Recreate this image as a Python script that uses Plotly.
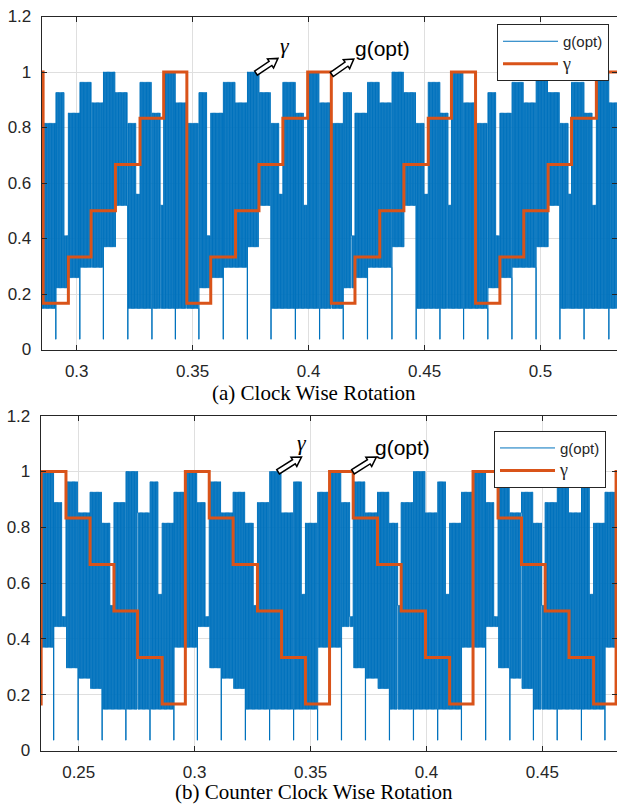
import math
import plotly.graph_objects as go

# ---------------- data ----------------
# Panel (a) Clock Wise Rotation
A_XRANGE = [0.2849, 0.5330]
a_gamma_pre = 1.0
a_gamma_x = [0.2855, 0.2964, 0.3062, 0.3167, 0.3273, 0.3375,
             0.3475, 0.3578, 0.3685, 0.3786, 0.3889, 0.3996,
             0.4098, 0.4200, 0.4307, 0.4411, 0.4516, 0.4616,
             0.4720, 0.4825, 0.4928, 0.5033, 0.5134, 0.5241]
a_gamma = [0.1667, 0.3333, 0.5, 0.6667, 0.8333, 1.0,
           0.1667, 0.3333, 0.5, 0.6667, 0.8333, 1.0,
           0.1667, 0.3333, 0.5, 0.6667, 0.8333, 1.0,
           0.1667, 0.3333, 0.5, 0.6667, 0.8333, 1.0]
# g(opt): upper level of each half-step burst and lower level it switches to
a_top = [0.815, 0.926, 0.852, 0.963, 0.889, 1.0, 0.926, 0.815, 0.963, 0.852, 1.0, 0.889,
         0.815, 0.926, 0.852, 0.963, 0.889, 1.0, 0.926, 0.815, 0.963, 0.852, 1.0, 0.889,
         0.815, 0.926, 0.852, 0.963, 0.889, 1.0, 0.926, 0.815, 0.963, 0.852, 1.0, 0.889,
         0.815, 0.926, 0.852, 0.963, 0.889, 1.0, 0.926, 0.815, 0.963, 0.852, 1.0, 0.889]
a_low = [0.148, 0.222, 0.259, 0.296, 0.296, 0.370, 0.519, 0.148, 0.148, 0.148, 0.148, 0.148,
         0.148, 0.222, 0.259, 0.296, 0.296, 0.370, 0.519, 0.148, 0.148, 0.148, 0.148, 0.148,
         0.148, 0.222, 0.259, 0.296, 0.296, 0.370, 0.519, 0.148, 0.148, 0.148, 0.148, 0.148,
         0.148, 0.222, 0.259, 0.296, 0.296, 0.370, 0.519, 0.148, 0.148, 0.148, 0.148, 0.148]
# level reached in the short pause at the end of a burst (None = no pause)
a_pause = [None, 0.41, None, None, None, None, None, 0.56, None, 0.52, None, None,
           None, 0.41, None, None, None, None, None, 0.56, None, 0.52, None, None,
           None, 0.41, None, None, None, None, None, 0.56, None, 0.52, None, None,
           None, 0.41, None, None, None, None, None, 0.56, None, 0.52, None, None]

# Panel (b) Counter Clock Wise Rotation
B_XRANGE = [0.2336, 0.4822]
b_gamma_pre = 0.1667
b_gamma_x = [0.2338, 0.2445, 0.2549, 0.2652, 0.2754, 0.2860,
             0.2960, 0.3063, 0.3166, 0.3271, 0.3375, 0.3478,
             0.3582, 0.3684, 0.3789, 0.3891, 0.3996, 0.4100,
             0.4201, 0.4309, 0.4410, 0.4512, 0.4615, 0.4721, 0.4818]
b_gamma = [1.0, 0.8333, 0.6667, 0.5, 0.3333, 0.1667,
           1.0, 0.8333, 0.6667, 0.5, 0.3333, 0.1667,
           1.0, 0.8333, 0.6667, 0.5, 0.3333, 0.1667,
           1.0, 0.8333, 0.6667, 0.5, 0.3333, 0.1667, 1.0]
b_top = [1.0, 0.889, 0.963, 0.852, 0.926, 0.815, 0.889, 1.0, 0.852, 0.963, 0.815, 0.926,
         1.0, 0.889, 0.963, 0.852, 0.926, 0.815, 0.889, 1.0, 0.852, 0.963, 0.815, 0.926,
         1.0, 0.889, 0.963, 0.852, 0.926, 0.815, 0.889, 1.0, 0.852, 0.963, 0.815, 0.926,
         1.0, 0.889, 0.963, 0.852, 0.926, 0.815, 0.889, 1.0, 0.852, 0.963, 0.815, 0.926]
b_low = [0.370, 0.444, 0.296, 0.259, 0.222, 0.148, 0.148, 0.148, 0.148, 0.148, 0.148, 0.370,
         0.370, 0.444, 0.296, 0.259, 0.222, 0.148, 0.148, 0.148, 0.148, 0.148, 0.148, 0.370,
         0.370, 0.444, 0.296, 0.259, 0.222, 0.148, 0.148, 0.148, 0.148, 0.148, 0.148, 0.370,
         0.370, 0.444, 0.296, 0.259, 0.222, 0.148, 0.148, 0.148, 0.148, 0.148, 0.148, 0.370]
b_pause = [None, 0.48, None, None, None, 0.52, None, None, None, 0.56, None, None,
           None, 0.48, None, None, None, 0.52, None, None, None, 0.56, None, None,
           None, 0.48, None, None, None, 0.52, None, None, None, 0.56, None, None,
           None, 0.48, None, None, None, 0.52, None, None, None, 0.56, None, None]

spike_level = 0.037  # narrow dips in the middle of every gamma step

x_ticks_a = [0.3, 0.35, 0.4, 0.45, 0.5]
x_ticks_b = [0.25, 0.3, 0.35, 0.4, 0.45]
x_tick_text_a = ["0.3", "0.35", "0.4", "0.45", "0.5"]
x_tick_text_b = ["0.25", "0.3", "0.35", "0.4", "0.45"]
y_ticks = [0, 0.2, 0.4, 0.6, 0.8, 1.0, 1.2]
y_tick_text = ["0", "0.2", "0.4", "0.6", "0.8", "1", "1.2"]

# ---------------- styling ----------------
W, H = 617, 805
BLUE = "#0072BD"
ORANGE = "#D95319"
AX = "#262626"
GRID = "#dfdfdf"
SANS = "Liberation Sans, Arial, sans-serif"
SERIF = "Liberation Serif, Times New Roman, serif"

# axis geometry (pixels)
A_DOM_X = [41.7 / W, 1.0]
B_DOM_X = [40.7 / W, 1.0]
A_DOM_Y = [1 - 349.5 / H, 1 - 16.5 / H]
B_DOM_Y = [1 - 750.5 / H, 1 - 415.7 / H]
PX_X_A = (W - 41.7) / (A_XRANGE[1] - A_XRANGE[0])
PX_X_B = (W - 40.7) / (B_XRANGE[1] - B_XRANGE[0])
PX_Y_A = (349.5 - 16.5) / 1.2
PX_Y_B = (750.5 - 415.7) / 1.2


def gopt_xy(xrange, steps, tops, lows, pauses, spike, dx):
    xs, ys = [], []
    nsteps = len(tops) // 2
    for i in range(nsteps):
        s = xrange[0] if i == 0 else steps[i]
        if i + 1 < len(steps):
            e = steps[i + 1]
            mid = (steps[i] + steps[i + 1]) / 2
        else:
            e = xrange[1]
            mid = steps[i] + (steps[i] - steps[i - 1]) / 2
        for j, (bs, be) in enumerate(((s, mid), (mid, e))):
            if be <= bs:
                continue
            b = 2 * i + j
            t, lo, pz = tops[b], lows[b], pauses[b]
            start = bs + (dx * 0.35 if j == 1 else 0)
            top_end = be if pz is None else be - 0.3 * (be - bs)
            n = max(2, int(round((top_end - start) / dx)))
            for k in range(n):
                xs.append(start + k * (top_end - start) / n)
                ys.append(t if k % 2 == 0 else lo)
            if pz is not None:
                m = max(2, int(round((be - top_end) / dx)))
                for k in range(m):
                    xs.append(top_end + k * (be - top_end) / m)
                    ys.append(pz if k % 2 == 0 else lo)
            if j == 0:
                xs.append(mid)
                ys.append(spike)
    xs.append(xrange[1])
    ys.append(ys[-1])
    return xs, ys


def gamma_xy(xrange, pre, steps, levels):
    xs = [xrange[0]] + list(steps) + [xrange[1]]
    ys = [pre] + list(levels) + [levels[-1]]
    return xs, ys


def hollow_arrow(tail, head, sx, sy, shaft=5.0, head_w=11.0, head_len=9.0):
    tx, ty = tail[0] * sx, tail[1] * sy
    hx, hy = head[0] * sx, head[1] * sy
    L = math.hypot(hx - tx, hy - ty)
    ux, uy = (hx - tx) / L, (hy - ty) / L
    nx, ny = -uy, ux
    kx, ky = hx - ux * head_len, hy - uy * head_len
    pts = [
        (tx + nx * shaft / 2, ty + ny * shaft / 2),
        (kx + nx * shaft / 2, ky + ny * shaft / 2),
        (kx + nx * head_w / 2, ky + ny * head_w / 2),
        (hx, hy),
        (kx - nx * head_w / 2, ky - ny * head_w / 2),
        (kx - nx * shaft / 2, ky - ny * shaft / 2),
        (tx - nx * shaft / 2, ty - ny * shaft / 2),
    ]
    return "M " + " L ".join(f"{x / sx:.6f},{y / sy:.6f}" for x, y in pts) + " Z"


GAMMA_NAME = "<span style='font-family:Liberation Serif;font-size:18px'>γ</span>"

fig = go.Figure()

ax_, ay_ = gopt_xy(A_XRANGE, a_gamma_x, a_top, a_low, a_pause, spike_level, 0.6 / PX_X_A)
gx_, gy_ = gamma_xy(A_XRANGE, a_gamma_pre, a_gamma_x, a_gamma)
fig.add_trace(go.Scatter(x=ax_, y=ay_, mode="lines", name="g(opt)",
                         line=dict(color=BLUE, width=1, shape="hv", simplify=False),
                         xaxis="x", yaxis="y", legend="legend"))
fig.add_trace(go.Scatter(x=gx_, y=gy_, mode="lines", name=GAMMA_NAME,
                         line=dict(color=ORANGE, width=3, shape="hv"),
                         xaxis="x", yaxis="y", legend="legend"))

bx_, by_ = gopt_xy(B_XRANGE, b_gamma_x, b_top, b_low, b_pause, spike_level, 0.6 / PX_X_B)
hx_, hy_ = gamma_xy(B_XRANGE, b_gamma_pre, b_gamma_x, b_gamma)
fig.add_trace(go.Scatter(x=bx_, y=by_, mode="lines", name="g(opt)",
                         line=dict(color=BLUE, width=1, shape="hv", simplify=False),
                         xaxis="x2", yaxis="y2", legend="legend2"))
fig.add_trace(go.Scatter(x=hx_, y=hy_, mode="lines", name=GAMMA_NAME,
                         line=dict(color=ORANGE, width=3, shape="hv"),
                         xaxis="x2", yaxis="y2", legend="legend2"))

axis_common = dict(showline=True, linecolor=AX, linewidth=1, mirror="allticks",
                   ticks="inside", ticklen=5, tickcolor=AX, showgrid=True,
                   gridcolor=GRID, gridwidth=1, zeroline=False,
                   tickfont=dict(family=SANS, size=17, color=AX), automargin=False)

legend_common = dict(xanchor="left", yanchor="top", bgcolor="white", bordercolor=AX,
                     borderwidth=1, itemwidth=55, tracegroupgap=0,
                     font=dict(family=SANS, size=15, color=AX))

fig.update_layout(
    width=W, height=H, margin=dict(l=0, r=0, t=0, b=0),
    paper_bgcolor="white", plot_bgcolor="white",
    xaxis=dict(domain=A_DOM_X, range=A_XRANGE, tickvals=x_ticks_a, ticktext=x_tick_text_a,
               anchor="y", ticklabelstandoff=6, **axis_common),
    yaxis=dict(domain=A_DOM_Y, range=[0, 1.2], tickvals=y_ticks, ticktext=y_tick_text,
               anchor="x", ticklabelstandoff=6, **axis_common),
    xaxis2=dict(domain=B_DOM_X, range=B_XRANGE, tickvals=x_ticks_b, ticktext=x_tick_text_b,
                anchor="y2", ticklabelstandoff=6, **axis_common),
    yaxis2=dict(domain=B_DOM_Y, range=[0, 1.2], tickvals=y_ticks, ticktext=y_tick_text,
                anchor="x2", ticklabelstandoff=6, **axis_common),
    legend=dict(x=497 / W, y=1 - 24 / H, **legend_common),
    legend2=dict(x=494 / W, y=1 - 430.7 / H, **legend_common),
    showlegend=True,
)

# hollow arrows with labels
arrows = [
    ("x", "y", (0.3773, 0.996), (0.3868, 1.049), PX_X_A, PX_Y_A),
    ("x", "y", (0.4100, 0.991), (0.4195, 1.047), PX_X_A, PX_Y_A),
    ("x2", "y2", (0.3360, 0.999), (0.3461, 1.052), PX_X_B, PX_Y_B),
    ("x2", "y2", (0.3683, 0.999), (0.3784, 1.052), PX_X_B, PX_Y_B),
]
for xr, yr, tail, head, sx, sy in arrows:
    fig.add_shape(type="path", path=hollow_arrow(tail, head, sx, sy), xref=xr, yref=yr,
                  line=dict(color="black", width=1.5), fillcolor="white", layer="above")

labels = [
    ("x", "y", 0.3898, 1.097, "<i>γ</i>", SERIF, 22),
    ("x", "y", 0.4320, 1.086, "g(opt)", SANS, 21),
    ("x2", "y2", 0.3462, 1.105, "<i>γ</i>", SERIF, 22),
    ("x2", "y2", 0.3898, 1.087, "g(opt)", SANS, 21),
]
for xr, yr, x, y, t, fam, sz in labels:
    fig.add_annotation(x=x, y=y, xref=xr, yref=yr, text=t, showarrow=False,
                       xanchor="center", yanchor="middle",
                       font=dict(family=fam, size=sz, color="black"))

fig.add_annotation(x=313.5 / W, y=1 - 393 / H, xref="paper", yref="paper",
                   text="(a) Clock Wise Rotation", showarrow=False,
                   xanchor="center", yanchor="middle",
                   font=dict(family=SERIF, size=21, color="black"))
fig.add_annotation(x=313.7 / W, y=1 - 792 / H, xref="paper", yref="paper",
                   text="(b) Counter Clock Wise Rotation", showarrow=False,
                   xanchor="center", yanchor="middle",
                   font=dict(family=SERIF, size=21, color="black"))

fig.write_html("out.html", config={"displayModeBar": False},
               post_script="document.body.style.margin='0';")
